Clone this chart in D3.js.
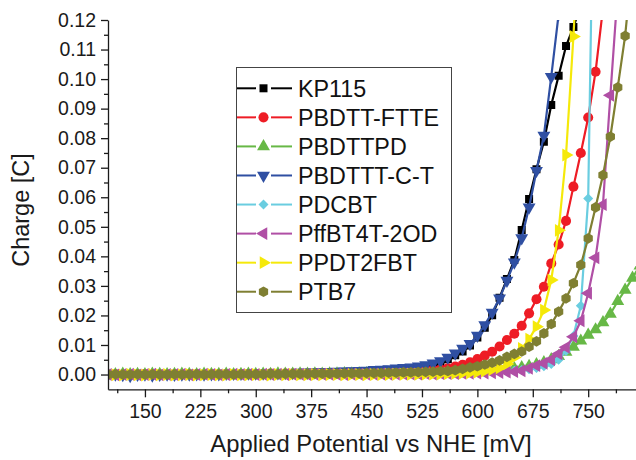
<!DOCTYPE html>
<html>
<head>
<meta charset="utf-8">
<script src="https://cdn.jsdelivr.net/npm/d3@7"></script>
<style>
  body { margin: 0; background: #fff; }
  svg { display: block; font-family: Arial, "Liberation Sans", sans-serif; }
</style>
</head>
<body>
<div id="chart"></div>
<script>
// applied potential (mV vs NHE), shared by all series
const potential = [100,110,120,130,140,150,160,170,180,190,
  200,210,220,230,240,250,260,270,280,290,
  300,310,320,330,340,350,360,370,380,390,
  400,410,420,430,440,450,460,470,480,490,
  500,510,520,530,540,550,560,570,580,590,
  600,610,620,630,640,650,660,670,680,690,
  700,710,720,730,740,750,760,770,780,790,
  800,810,820];

// charge [C]
const kp115 = [0.0000,-0.0001,0.0001,0.0000,-0.0002,0.0001,0.0000,0.0001,-0.0001,0.0000,
  0.0001,0.0000,0.0001,0.0000,0.0001,0.0001,0.0000,0.0001,0.0001,0.0002,
  0.0001,0.0002,0.0002,0.0001,0.0002,0.0002,0.0003,0.0002,0.0003,0.0003,
  0.0004,0.0004,0.0005,0.0005,0.0006,0.0007,0.0008,0.0009,0.0010,0.0012,
  0.0014,0.0017,0.0021,0.0026,0.0032,0.0040,0.0052,0.0065,0.0078,0.0098,
  0.0125,0.0158,0.0201,0.0260,0.0323,0.0388,0.0489,0.0594,0.0695,0.0788,
  0.0912,0.1011,0.1112,0.1176,0.1250];
const pbdttFtte = [0.0000,0.0001,0.0000,-0.0001,0.0001,0.0002,0.0000,0.0001,0.0000,0.0001,
  0.0000,0.0001,0.0001,0.0000,0.0001,0.0001,0.0002,0.0001,0.0002,0.0002,
  0.0002,0.0002,0.0003,0.0002,0.0003,0.0003,0.0003,0.0004,0.0004,0.0004,
  0.0005,0.0005,0.0005,0.0006,0.0006,0.0007,0.0007,0.0008,0.0009,0.0010,
  0.0011,0.0012,0.0013,0.0015,0.0016,0.0018,0.0021,0.0027,0.0033,0.0041,
  0.0052,0.0064,0.0077,0.0095,0.0117,0.0138,0.0165,0.0207,0.0255,0.0297,
  0.0376,0.0440,0.0520,0.0636,0.0750,0.0870,0.1025,0.1240];
const pbdttpd = [0.0001,0.0000,0.0002,0.0000,0.0001,0.0000,0.0002,0.0001,0.0000,0.0001,
  0.0002,0.0001,0.0000,0.0002,0.0001,0.0001,0.0002,0.0000,0.0001,0.0002,
  0.0001,0.0002,0.0001,0.0003,0.0002,0.0002,0.0003,0.0002,0.0003,0.0002,
  0.0003,0.0003,0.0004,0.0003,0.0004,0.0004,0.0003,0.0004,0.0004,0.0004,
  0.0004,0.0004,0.0005,0.0005,0.0006,0.0006,0.0007,0.0008,0.0009,0.0010,
  0.0011,0.0012,0.0014,0.0016,0.0018,0.0021,0.0024,0.0028,0.0034,0.0041,
  0.0051,0.0062,0.0076,0.0093,0.0114,0.0134,0.0152,0.0176,0.0205,0.0248,
  0.0286,0.0327,0.0368];
const pbdtttCT = [0.0000,0.0001,-0.0001,-0.0004,0.0000,0.0001,-0.0003,0.0000,0.0001,0.0000,
  0.0001,0.0001,0.0002,0.0001,0.0002,0.0002,0.0003,0.0003,0.0003,0.0004,
  0.0004,0.0004,0.0005,0.0005,0.0006,0.0006,0.0007,0.0007,0.0008,0.0009,
  0.0009,0.0010,0.0011,0.0012,0.0013,0.0014,0.0016,0.0017,0.0019,0.0021,
  0.0023,0.0025,0.0028,0.0032,0.0038,0.0046,0.0058,0.0072,0.0088,0.0104,
  0.0132,0.0168,0.0210,0.0258,0.0318,0.0380,0.0462,0.0566,0.0690,0.0809,
  0.1008,0.1220];
const pdcbt = [0.0000,0.0001,0.0000,0.0001,0.0000,-0.0001,0.0001,0.0000,0.0001,0.0000,
  0.0001,0.0000,0.0001,0.0001,0.0000,0.0001,0.0001,0.0000,0.0001,0.0001,
  0.0001,0.0002,0.0001,0.0001,0.0002,0.0001,0.0002,0.0002,0.0001,0.0002,
  0.0002,0.0002,0.0002,0.0003,0.0002,0.0003,0.0003,0.0003,0.0003,0.0004,
  0.0004,0.0004,0.0004,0.0005,0.0005,0.0005,0.0006,0.0006,0.0007,0.0007,
  0.0008,0.0009,0.0010,0.0011,0.0012,0.0013,0.0015,0.0018,0.0022,0.0028,
  0.0036,0.0050,0.0080,0.0130,0.0233,0.0596,0.2150];
const pffbt4t = [0.0000,-0.0001,0.0000,0.0001,-0.0001,0.0000,0.0001,-0.0001,0.0000,0.0000,
  0.0001,-0.0001,0.0000,0.0001,0.0000,-0.0001,0.0000,0.0001,0.0000,0.0000,
  0.0000,0.0001,0.0000,0.0001,0.0000,0.0001,0.0001,0.0000,0.0001,0.0001,
  0.0001,0.0001,0.0000,0.0001,0.0001,0.0001,0.0001,0.0002,0.0001,0.0002,
  0.0002,0.0002,0.0002,0.0003,0.0002,0.0003,0.0003,0.0003,0.0004,0.0004,
  0.0005,0.0005,0.0006,0.0007,0.0008,0.0010,0.0013,0.0021,0.0030,0.0038,
  0.0050,0.0070,0.0092,0.0128,0.0182,0.0275,0.0395,0.0575,0.0945,0.1300];
const ppdt2fbt = [0.0000,-0.0001,-0.0002,0.0000,-0.0001,-0.0002,0.0000,-0.0001,0.0000,-0.0002,
  -0.0001,0.0000,-0.0002,-0.0001,0.0000,-0.0001,-0.0002,0.0000,-0.0001,-0.0001,
  0.0000,-0.0001,-0.0002,0.0000,-0.0001,0.0000,-0.0001,-0.0001,0.0000,-0.0001,
  0.0000,0.0000,-0.0001,0.0000,0.0000,-0.0001,0.0000,0.0000,0.0000,0.0001,
  0.0001,0.0001,0.0001,0.0002,0.0002,0.0002,0.0003,0.0004,0.0005,0.0006,
  0.0008,0.0012,0.0017,0.0023,0.0036,0.0058,0.0088,0.0120,0.0162,0.0218,
  0.0320,0.0488,0.0743,0.1144,0.1600];
const ptb7 = [0.0000,0.0001,0.0000,0.0000,0.0001,0.0000,0.0001,0.0000,0.0000,0.0001,
  0.0000,0.0001,0.0001,0.0000,0.0001,0.0001,0.0001,0.0000,0.0001,0.0001,
  0.0001,0.0001,0.0002,0.0001,0.0002,0.0002,0.0002,0.0002,0.0003,0.0003,
  0.0003,0.0003,0.0004,0.0004,0.0004,0.0005,0.0005,0.0005,0.0006,0.0006,
  0.0007,0.0007,0.0008,0.0009,0.0010,0.0011,0.0012,0.0015,0.0019,0.0024,
  0.0028,0.0034,0.0040,0.0048,0.0060,0.0070,0.0078,0.0094,0.0112,0.0139,
  0.0171,0.0213,0.0258,0.0309,0.0371,0.0461,0.0566,0.0675,0.0805,0.0972,
  0.1146,0.1400];

const seriesNames = ["KP115", "PBDTT-FTTE", "PBDTTPD", "PBDTTT-C-T", "PDCBT", "PffBT4T-2OD", "PPDT2FBT", "PTB7"];
const seriesValues = [kp115, pbdttFtte, pbdttpd, pbdtttCT, pdcbt, pffbt4t, ppdt2fbt, ptb7];

const yTicks = [0, 0.01, 0.02, 0.03, 0.04, 0.05, 0.06, 0.07, 0.08, 0.09, 0.10, 0.11, 0.12];
const yMinor = [0.005, 0.015, 0.025, 0.035, 0.045, 0.055, 0.065, 0.075, 0.085, 0.095, 0.105, 0.115];
const xTicks = [150, 225, 300, 375, 450, 525, 600, 675, 750];
const xMinor = [112.5, 187.5, 262.5, 337.5, 412.5, 487.5, 562.5, 637.5, 712.5, 787.5];

// hexagon marker for PTB7
const symbolHexagon = {
  draw(ctx, size) {
    const r = Math.sqrt(size / (1.5 * Math.sqrt(3)));
    for (let k = 0; k < 6; k++) {
      const a = Math.PI / 2 + k * Math.PI / 3;
      const px = r * Math.cos(a), py = r * Math.sin(a);
      if (k === 0) ctx.moveTo(px, py); else ctx.lineTo(px, py);
    }
    ctx.closePath();
  }
};

// look of each series: colour, marker, marker size, rotation
const styles = [
  {color: "#000000", type: d3.symbolSquare, size: 64, rot: 0},
  {color: "#ee1c25", type: d3.symbolCircle, size: 80, rot: 0},
  {color: "#67b846", type: d3.symbolTriangle, size: 72, rot: 0},
  {color: "#2f4fa2", type: d3.symbolTriangle, size: 72, rot: 180},
  {color: "#6acde0", type: d3.symbolDiamond2, size: 64, rot: 0},
  {color: "#b04fa5", type: d3.symbolTriangle, size: 72, rot: -90},
  {color: "#f5e90a", type: d3.symbolTriangle, size: 72, rot: 90},
  {color: "#7f7f32", type: symbolHexagon, size: 74, rot: 0}
];

const width = 636, height = 460;
const plotLeft = 108, plotTop = 20, plotBottom = 389.3;

const x = d3.scaleLinear().domain([100, 825]).range([plotLeft, 643.6]);
const y = d3.scaleLinear().domain([-0.005, 0.12]).range([plotBottom, plotTop]);

const svg = d3.select("#chart").append("svg")
  .attr("width", width)
  .attr("height", height);

svg.append("defs").append("clipPath").attr("id", "plotclip")
  .append("rect")
  .attr("x", plotLeft).attr("y", plotTop)
  .attr("width", 700).attr("height", plotBottom - plotTop);

// curves
const plot = svg.append("g").attr("clip-path", "url(#plotclip)");
const line = d3.line().x(d => x(d[0])).y(d => y(d[1]));

seriesValues.forEach((vals, i) => {
  const st = styles[i];
  const pts = vals.map((v, j) => [potential[j], v]);
  const g = plot.append("g");
  g.append("path")
    .datum(pts)
    .attr("d", line)
    .attr("fill", "none")
    .attr("stroke", st.color)
    .attr("stroke-width", 2.2);
  g.selectAll("path.m")
    .data(pts)
    .enter()
    .append("path")
    .attr("class", "m")
    .attr("d", d3.symbol(st.type, st.size))
    .attr("transform", d => "translate(" + x(d[0]) + "," + y(d[1]) + ") rotate(" + st.rot + ")")
    .attr("fill", st.color);
});

// y axis
const yAxis = svg.append("g").attr("transform", "translate(" + plotLeft + ",0)");
yAxis.call(d3.axisLeft(y).tickValues(yTicks).tickSize(7).tickSizeOuter(0)
  .tickPadding(5).tickFormat(d3.format(".2f")));
yAxis.append("g").call(d3.axisLeft(y).tickValues(yMinor).tickSize(4).tickFormat(""))
  .select(".domain").remove();

// x axis
const xAxis = svg.append("g").attr("transform", "translate(0," + plotBottom + ")");
xAxis.call(d3.axisBottom(x).tickValues(xTicks).tickSize(8).tickSizeOuter(0)
  .tickPadding(7).tickFormat(d3.format("d")));
xAxis.append("g").call(d3.axisBottom(x).tickValues(xMinor).tickSize(4).tickFormat(""))
  .select(".domain").remove();

svg.selectAll(".tick text")
  .attr("font-size", 19.5)
  .attr("font-family", "Arial, 'Liberation Sans', sans-serif")
  .attr("fill", "#1a1a1a");
svg.selectAll(".domain, .tick line").attr("stroke", "#1a1a1a").attr("stroke-width", 1.3);

// axis titles
svg.append("text")
  .attr("transform", "translate(29,210) rotate(-90)")
  .attr("text-anchor", "middle")
  .attr("font-size", 23.5)
  .attr("fill", "#1a1a1a")
  .text("Charge [C]");

svg.append("text")
  .attr("x", 371)
  .attr("y", 452)
  .attr("text-anchor", "middle")
  .attr("font-size", 23.8)
  .attr("fill", "#1a1a1a")
  .text("Applied Potential vs NHE [mV]");

// legend
const legend = svg.append("g");
legend.append("rect")
  .attr("x", 236.5).attr("y", 67.5)
  .attr("width", 215).attr("height", 245)
  .attr("fill", "#fff")
  .attr("stroke", "#444")
  .attr("stroke-width", 1);

seriesNames.forEach((name, i) => {
  const st = styles[i];
  const cy = 88.3 + i * 29.06;
  const row = legend.append("g");
  row.append("line").attr("x1", 237).attr("x2", 256).attr("y1", cy).attr("y2", cy)
    .attr("stroke", st.color).attr("stroke-width", 2);
  row.append("line").attr("x1", 271).attr("x2", 292).attr("y1", cy).attr("y2", cy)
    .attr("stroke", st.color).attr("stroke-width", 2);
  row.append("path")
    .attr("d", d3.symbol(st.type, st.size)())
    .attr("transform", "translate(263.5," + cy + ") rotate(" + st.rot + ")")
    .attr("fill", st.color);
  row.append("text")
    .attr("x", 298)
    .attr("y", cy)
    .attr("dy", "0.36em")
    .attr("font-size", 23.3)
    .attr("fill", "#111")
    .text(name);
});
</script>
</body>
</html>
